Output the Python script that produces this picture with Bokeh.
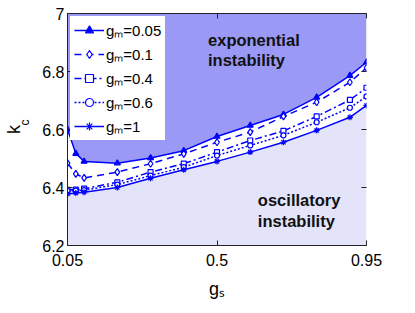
from bokeh.plotting import figure
from bokeh.models import LinearAxis, FixedTicker, Label, Range1d, Title
from bokeh.embed import file_html
from bokeh.resources import INLINE

# ---- data ----
gs = [0.05, 0.075, 0.1, 0.2, 0.3, 0.4, 0.5, 0.6, 0.7, 0.8, 0.9, 0.95]
kc_gm005 = [6.600, 6.517, 6.490, 6.484, 6.502, 6.527, 6.576, 6.614, 6.652, 6.711, 6.786, 6.832]
kc_gm01 = [6.484, 6.447, 6.433, 6.453, 6.482, 6.516, 6.556, 6.591, 6.645, 6.694, 6.763, 6.813]
kc_gm04 = [6.392, 6.393, 6.396, 6.418, 6.453, 6.482, 6.522, 6.562, 6.595, 6.645, 6.702, 6.744]
kc_gm06 = [6.388, 6.389, 6.391, 6.410, 6.441, 6.470, 6.510, 6.545, 6.580, 6.625, 6.675, 6.714]
kc_gm1 = [6.378, 6.381, 6.384, 6.400, 6.432, 6.461, 6.490, 6.522, 6.556, 6.597, 6.642, 6.683]

series_labels = ["gₘ=0.05", "gₘ=0.1", "gₘ=0.4", "gₘ=0.6", "gₘ=1"]

x_ticks = [0.05, 0.5, 0.95]
x_tick_labels = ["0.05", "0.5", "0.95"]
y_ticks = [6.2, 6.4, 6.6, 6.8, 7.0]
y_tick_labels = ["6.2", "6.4", "6.6", "6.8", "7"]

x_min, x_max = 0.05, 0.95
y_min, y_max = 6.2, 7.0

BLUE = "#0000ff"
UPPER = "#9a9af6"
LOWER = "#e3e3fa"
AXIS = "#222222"
FONT = "Liberation Sans"

p = figure(width=415, height=313,
           x_range=Range1d(x_min, x_max), y_range=Range1d(y_min, y_max),
           output_backend="svg", toolbar_location=None,
           min_border_left=66, min_border_right=49,
           min_border_top=13, min_border_bottom=68)
p.grid.visible = False
p.outline_line_color = None
p.background_fill_color = "white"
p.border_fill_color = "white"

# shaded regions
n = len(gs)
p.varea(x=gs, y1=kc_gm005, y2=[y_max] * n, fill_color=UPPER)
p.varea(x=gs, y1=[y_min] * n, y2=kc_gm1, fill_color=LOWER)

styles = [
    (kc_gm005, "solid", "triangle", BLUE, 6),
    (kc_gm01, "7 5", "diamond", "white", 7),
    (kc_gm04, "7 3 2 3", "square", "white", 5),
    (kc_gm06, "2 2", "circle", "white", 5),
    (kc_gm1, "solid", "asterisk", BLUE, 6),
]
for (ys, dash, marker, fill, size), lab in zip(styles, series_labels):
    p.line(gs, ys, line_color=BLUE, line_width=1.5, line_dash=dash, legend_label=lab)
    p.scatter(gs, ys, marker=marker, size=size, line_color=BLUE, line_width=1.2,
              fill_color=fill, legend_label=lab)

# main axes
def style_ticks(ax):
    ax.major_tick_in = 5
    ax.major_tick_out = 0
    ax.minor_tick_in = 0
    ax.minor_tick_out = 0
    ax.major_tick_line_color = AXIS
    ax.axis_line_color = AXIS
    ax.major_label_text_font = FONT
    ax.major_label_text_font_size = "16px"
    ax.major_label_text_color = "black"

xa = p.xaxis[0]
xa.ticker = FixedTicker(ticks=x_ticks)
xa.major_label_overrides = dict(zip(x_ticks, x_tick_labels))
style_ticks(xa)
xa.major_label_standoff = 8
xa.axis_label = "gₛ"
xa.axis_label_text_font = FONT
xa.axis_label_text_font_size = "18px"
xa.axis_label_text_font_style = "normal"
xa.axis_label_text_color = "black"
xa.axis_label_standoff = 10

ya = p.yaxis[0]
ya.ticker = FixedTicker(ticks=y_ticks)
ya.major_label_overrides = dict(zip(y_ticks, y_tick_labels))
style_ticks(ya)
ya.major_label_standoff = 3
ya.axis_label = None

# subscript "c" of k_c: a side title shifted upward along the axis
c_title = Title(text="c", align="left", offset=120, vertical_align="top", standoff=12,
                text_font=FONT, text_font_size="12px", text_font_style="normal",
                text_color="black")

# outer left axis carrying the "k" of k_c
k_ax = LinearAxis(ticker=FixedTicker(ticks=[]), axis_line_color=None,
                  major_tick_line_color=None, minor_tick_line_color=None,
                  axis_label="k", axis_label_text_font=FONT,
                  axis_label_text_font_size="18px", axis_label_text_font_style="normal",
                  axis_label_text_color="black", axis_label_standoff=-12)
p.left = [ya, c_title, k_ax]

# top and right box edges with inward ticks only (no labels)
top_ax = LinearAxis(ticker=FixedTicker(ticks=[], minor_ticks=x_ticks),
                    axis_line_color=AXIS, minor_tick_in=5, minor_tick_out=0,
                    minor_tick_line_color=AXIS, major_tick_in=0, major_tick_out=0)
p.add_layout(top_ax, "above")
right_ax = LinearAxis(ticker=FixedTicker(ticks=[], minor_ticks=y_ticks),
                      axis_line_color=None, minor_tick_in=5, minor_tick_out=0,
                      minor_tick_line_color=AXIS, major_tick_in=0, major_tick_out=0)
p.add_layout(right_ax, "right")

# legend
lg = p.legend[0]
lg.location = "top_left"
lg.margin = 3
lg.padding = 3
lg.spacing = 4
lg.glyph_height = 20
lg.glyph_width = 30
lg.label_standoff = 2
lg.label_height = 20
lg.label_text_font = FONT
lg.label_text_font_size = "15px"
lg.label_text_color = "black"
lg.background_fill_color = "white"
lg.background_fill_alpha = 1.0
lg.border_line_color = "white"

# region labels
p.add_layout(Label(x=0.473, y=6.941, text="exponential\ninstability",
                   text_font=FONT, text_font_style="bold", text_font_size="16.5px",
                   text_baseline="top", text_align="left", text_line_height=1.15,
                   text_color="#111111"))
p.add_layout(Label(x=0.623, y=6.388, text="oscillatory\ninstability",
                   text_font=FONT, text_font_style="bold", text_font_size="16.5px",
                   text_baseline="top", text_align="left", text_line_height=1.15,
                   text_color="#111111"))

open("out.html", "w").write(file_html(p, INLINE))
